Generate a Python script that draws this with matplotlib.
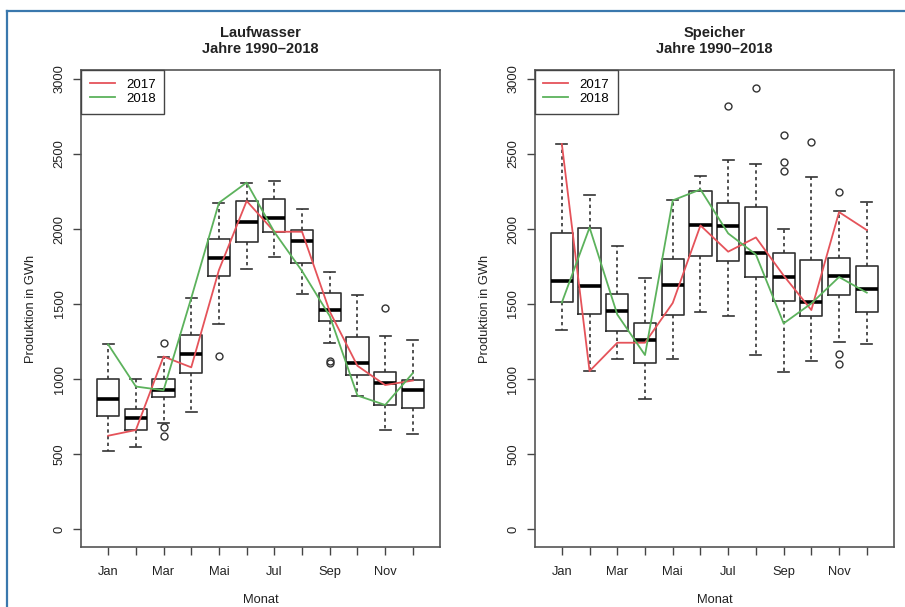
import matplotlib
matplotlib.use('Agg')
import matplotlib.pyplot as plt
from matplotlib.lines import Line2D

plt.rcParams['font.family'] = ['Liberation Sans', 'DejaVu Sans']

#%% data

monate = ['Jan', 'Feb', 'Mar', 'Apr', 'Mai', 'Jun', 'Jul', 'Aug', 'Sep', 'Okt', 'Nov', 'Dez']
tick_labels = ['Jan', '', 'Mar', '', 'Mai', '', 'Jul', '', 'Sep', '', 'Nov', '']

# Laufwasser
lw_whislo = [522, 547, 709, 782, 1367, 1731, 1816, 1564, 1242, 887, 660, 631]
lw_q1 = [751, 660, 882, 1042, 1687, 1911, 1982, 1776, 1389, 1027, 827, 804]
lw_med = [867, 742, 927, 1167, 1809, 2049, 2071, 1922, 1460, 1104, 976, 927]
lw_q3 = [998, 802, 1000, 1295, 1935, 2184, 2200, 1993, 1571, 1278, 1049, 993]
lw_whishi = [1231, 998, 1149, 1538, 2175, 2309, 2322, 2131, 1716, 1560, 1289, 1260]
lw_fliers = [[], [], [1238, 682, 622], [], [1151], [], [], [], [1108, 1118], [], [1476], []]
lw_2017 = [622, 660, 1150, 1078, 1727, 2187, 1982, 1982, 1450, 1088, 960, 990]
lw_2018 = [1231, 950, 925, 1540, 2175, 2310, 1980, 1720, 1420, 890, 827, 1040]

# Speicher
sp_whislo = [1329, 1053, 1131, 864, 1133, 1449, 1418, 1160, 1044, 1120, 1249, 1233]
sp_q1 = [1516, 1431, 1322, 1104, 1427, 1820, 1784, 1682, 1520, 1422, 1562, 1449]
sp_med = [1653, 1620, 1456, 1260, 1627, 2024, 2018, 1838, 1678, 1516, 1684, 1600]
sp_q3 = [1971, 2004, 1564, 1371, 1800, 2253, 2171, 2147, 1842, 1791, 1809, 1756]
sp_whishi = [2567, 2227, 1887, 1676, 2191, 2356, 2462, 2431, 1998, 2347, 2118, 2178]
sp_fliers = [[], [], [], [], [], [], [2822], [2940], [2627, 2449, 2389], [2582], [2249, 1164, 1098], []]
sp_2017 = [2567, 1053, 1242, 1242, 1507, 2024, 1849, 1944, 1690, 1460, 2113, 1993]
sp_2018 = [1510, 2010, 1430, 1160, 2191, 2264, 1971, 1830, 1371, 1504, 1680, 1576]

#%%

RED = '#e5535a'
GREEN = '#5cb25c'
DARK = '#333333'


def panel(ax, whislo, q1, med, q3, whishi, fliers, y17, y18, title):
    stats = []
    for i in range(len(monate)):
        stats.append(dict(label=monate[i], whislo=whislo[i], q1=q1[i], med=med[i],
                          q3=q3[i], whishi=whishi[i], fliers=fliers[i]))
    pos = list(range(1, 13))
    ax.bxp(stats, positions=pos, widths=0.8, capwidths=0.4,
           boxprops=dict(color=DARK, linewidth=1.2),
           whiskerprops=dict(color=DARK, linewidth=1.2, linestyle=(0, (2, 2))),
           capprops=dict(color=DARK, linewidth=1.2),
           medianprops=dict(color='black', linewidth=2.6),
           flierprops=dict(marker='o', markersize=5, markerfacecolor='none',
                           markeredgecolor=DARK, markeredgewidth=1.0))
    ax.plot(pos, y17, color=RED, linewidth=1.3, zorder=3)
    ax.plot(pos, y18, color=GREEN, linewidth=1.3, zorder=3)

    ax.set_xlim(0.02, 12.98)
    ax.set_ylim(-120, 3060)
    ax.set_xticks(pos)
    ax.set_xticklabels(tick_labels, fontsize=9.3, color='#222222')
    ax.set_yticks([0, 500, 1000, 1500, 2000, 2500, 3000])
    ax.set_yticklabels(['0', '500', '1000', '1500', '2000', '2500', '3000'],
                       rotation=90, va='center', fontsize=9.3, color='#222222')
    ax.tick_params(axis='x', direction='out', length=6, width=1.0, color='#444444', pad=8)
    ax.tick_params(axis='y', direction='out', length=6, width=1.0, color='#444444', pad=5)
    for s in ax.spines.values():
        s.set_color('#555555')
        s.set_linewidth(1.2)
    ax.set_xlabel('Monat', fontsize=9.3, color='#222222', labelpad=11)
    ax.set_ylabel('Produktion in GWh', fontsize=9.3, color='#222222', labelpad=12)
    ax.set_title(title, fontsize=10.5, fontweight='bold', color='#222222',
                 linespacing=1.25, pad=12)

    handles = [Line2D([], [], color=RED, linewidth=1.3),
               Line2D([], [], color=GREEN, linewidth=1.3)]
    leg = ax.legend(handles, ['2017', '2018'], loc='upper left', fontsize=9.5,
                    fancybox=False, framealpha=1, edgecolor='#444444',
                    borderaxespad=0, handlelength=1.9, borderpad=0.65,
                    labelspacing=0.15, handletextpad=0.85)
    leg.get_frame().set_linewidth(1.0)


f = plt.figure(figsize=(9.05, 6.07), dpi=100)

ax = f.add_axes([0.0895, 0.0988, 0.3967, 0.7858])
panel(ax, lw_whislo, lw_q1, lw_med, lw_q3, lw_whishi, lw_fliers, lw_2017, lw_2018,
      'Laufwasser\nJahre 1990\u20132018')

ax = f.add_axes([0.5908, 0.0988, 0.3970, 0.7858])
panel(ax, sp_whislo, sp_q1, sp_med, sp_q3, sp_whishi, sp_fliers, sp_2017, sp_2018,
      'Speicher\nJahre 1990\u20132018')

# blue frame of the page (top and left edge only visible)
BLUE = '#3a78ad'
f.add_artist(Line2D([7 / 905, 1.0], [1 - 11 / 607, 1 - 11 / 607], color=BLUE,
                    linewidth=1.6, transform=f.transFigure))
f.add_artist(Line2D([7 / 905, 7 / 905], [0.0, 1 - 11 / 607], color=BLUE,
                    linewidth=1.6, transform=f.transFigure))

f.savefig('out.png', dpi=100)
